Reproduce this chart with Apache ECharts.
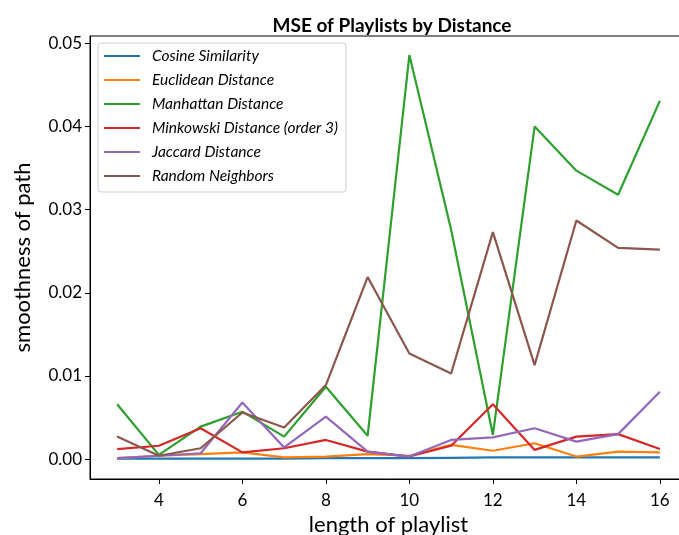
<!DOCTYPE html>
<html>
<head>
<meta charset="utf-8">
<script src="https://cdn.jsdelivr.net/npm/echarts@6/dist/echarts.min.js"></script>
<style>
html,body{margin:0;padding:0;background:#fff;}
#chart{width:679px;height:535px;}
</style>
</head>
<body>
<div id="chart"></div>
<script>
const lengths = [3,4,5,6,7,8,9,10,11,12,13,14,15,16];
const cosine    = [0.00005,0.00005,0.00005,0.00005,0.00005,0.0001,0.0001,0.0001,0.00015,0.0002,0.0002,0.0002,0.0002,0.0002];
const euclidean = [0.0001,0.0004,0.0006,0.0008,0.0002,0.0003,0.0006,0.0004,0.0017,0.0010,0.0019,0.0003,0.0009,0.0008];
const manhattan = [0.0066,0.0005,0.0039,0.0057,0.0027,0.0087,0.0028,0.0486,0.0276,0.0029,0.0400,0.0347,0.0318,0.0431];
const minkowski = [0.0012,0.0016,0.0037,0.0008,0.0013,0.0023,0.0009,0.0003,0.0016,0.0066,0.0011,0.0027,0.0030,0.0012];
const jaccard   = [0.0001,0.0004,0.0007,0.0068,0.0014,0.0051,0.0009,0.0003,0.0023,0.0026,0.0037,0.0021,0.0030,0.0081];
const randomNb  = [0.0027,0.0004,0.0013,0.0056,0.0038,0.0089,0.0219,0.0127,0.0103,0.0273,0.0113,0.0287,0.0254,0.0252];
const xTicks = [4,6,8,10,12,14,16];
const yTicks = [0,0.01,0.02,0.03,0.04,0.05];
const seriesNames = ['Cosine Similarity','Euclidean Distance','Manhattan Distance','Minkowski Distance (order 3)','Jaccard Distance','Random Neighbors'];
const seriesData = [cosine, euclidean, manhattan, minkowski, jaccard, randomNb];
const colors = ['#1f77b4','#ff7f0e','#2ca02c','#d62728','#9467bd','#8c564b'];

const FONT = 'Lato';
const chart = echarts.init(document.getElementById('chart'), null, {renderer:'canvas'});
chart.setOption({
  animation: false,
  backgroundColor: '#fff',
  color: colors,
  title: {
    text: 'MSE of Playlists by Distance',
    left: 387, top: 11, textAlign: 'center',
    textStyle: {fontFamily: FONT, fontSize: 19, fontWeight: 'bold', color: '#000'}
  },
  grid: {left: 90, top: 36, width: 597, height: 443, show: true, borderColor: '#000', borderWidth: 1, backgroundColor: 'transparent', containLabel: false, outerBoundsMode: 'none'},
  legend: {
    orient: 'vertical', left: 98, top: 43,
    padding: [1, 8, 4, 6],
    icon: 'rect', itemWidth: 36, itemHeight: 2.2, itemGap: 0,
    backgroundColor: '#fff', borderColor: '#d0d0d0', borderWidth: 1, borderRadius: 3,
    textStyle: {fontFamily: FONT, fontSize: 15.5, fontStyle: 'italic', color: '#000', lineHeight: 24, padding: [0,0,0,7]},
    data: seriesNames
  },
  xAxis: {
    type: 'value', min: 2.35, max: 16.65,
    name: 'length of playlist', nameLocation: 'middle', nameGap: 34,
    nameTextStyle: {fontFamily: FONT, fontSize: 22, color: '#000'},
    axisLine: {show: true, onZero: false, lineStyle: {color: '#000', width: 1}},
    axisTick: {show: true, length: 5, lineStyle: {color: '#000'}, customValues: xTicks},
    axisLabel: {fontFamily: FONT, fontSize: 17, color: '#000', margin: 13, customValues: xTicks},
    splitLine: {show: false}
  },
  yAxis: {
    type: 'value', min: -0.0024, max: 0.0509,
    name: 'smoothness of path', nameLocation: 'middle', nameGap: 56,
    nameTextStyle: {fontFamily: FONT, fontSize: 22, color: '#000'},
    axisLine: {show: true, onZero: false, lineStyle: {color: '#000', width: 1}},
    axisTick: {show: true, length: 5, lineStyle: {color: '#000'}, customValues: yTicks},
    axisLabel: {fontFamily: FONT, fontSize: 17, color: '#000', margin: 8, customValues: yTicks, formatter: v => v.toFixed(2)},
    splitLine: {show: false}
  },
  series: seriesNames.map((n, i) => ({
    name: n, type: 'line', showSymbol: false, symbol: 'none',
    lineStyle: {width: 2.2, color: colors[i]},
    itemStyle: {color: colors[i]},
    data: lengths.map((x, j) => [x, seriesData[i][j]])
  }))
});
</script>
</body>
</html>
